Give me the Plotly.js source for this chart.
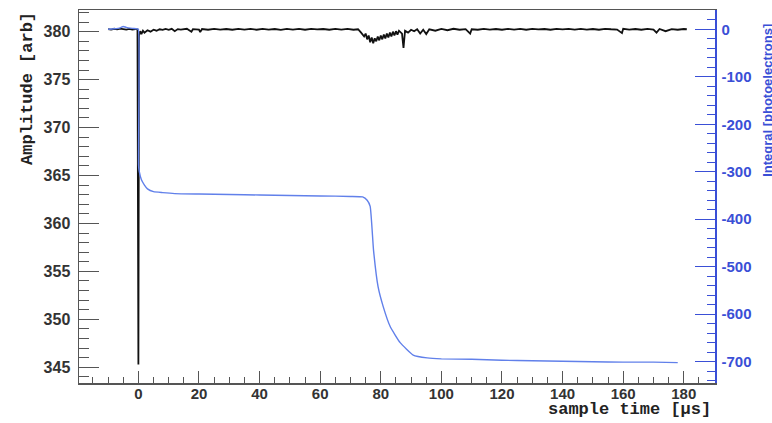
<!DOCTYPE html>
<html>
<head>
<meta charset="utf-8">
<script src="https://cdn.plot.ly/plotly-3.0.1.min.js"></script>
<style>html,body{margin:0;padding:0;background:#fff;}#chart{width:772px;height:423px;}</style>
</head>
<body>
<div id="chart"></div>
<script>
// Black trace: raw amplitude [arb] vs sample time [µs]
const ampTime = [-10,-9,-8,-7,-6,-5,-4,-3,-2,-1,-0.3,0,0.2,0.6,1,1.5,2,3,4,5,6,7,8,9,10,11,12,13,14,16,17.5,18,20,20.4,21,23,25,27,29,31,33,35,37,39,41,43,45,47,49,51,53,55,57,59,61,63,65,67,69,71,72.5,73.5,74.5,75,75.5,76,76.5,77,77.5,78,78.5,79,79.5,80,80.5,81,81.5,82,82.5,83,83.5,84,84.5,85,85.5,86,87,87.5,88,89,90,91,92,93,94,95,96,98,100,102,104,106,108,109.5,110,112,114,116,118,120,122,124,126,128,130,132,134,136,138,140,142,144,146,148,150,152,154,156,158,159.6,160,162,164,166,168,170,171,172,174,176,178,180,181];
const ampValue = [380.27,380.22,380.30,380.24,380.31,380.26,380.21,380.29,380.23,380.28,380.22,345.3,379.6,380.05,379.75,380.1,379.9,380.15,380.0,380.2,380.1,380.25,380.18,380.28,380.2,380.3,380.05,380.27,380.22,380.3,380.0,380.26,380.22,379.95,380.28,380.2,380.3,380.22,380.28,380.2,380.3,380.21,380.29,380.2,380.3,380.22,380.28,380.18,380.3,380.22,380.29,380.2,380.3,380.23,380.28,380.2,380.29,380.21,380.3,380.2,380.25,379.9,379.5,379.8,379.2,379.6,378.9,379.4,378.8,379.3,379.0,379.5,379.1,379.6,379.2,379.7,379.3,379.8,379.4,379.9,379.5,380.0,379.6,380.05,379.7,380.1,379.8,378.3,380.1,379.9,380.2,380.05,380.25,379.8,380.2,379.75,380.25,380.1,380.28,380.15,380.3,380.2,380.27,379.8,380.25,380.2,380.3,380.22,380.28,380.2,380.3,380.22,380.29,380.2,380.3,380.24,380.28,380.2,380.3,380.23,380.29,380.21,380.3,380.22,380.28,380.2,380.3,380.25,380.22,379.85,380.3,380.21,380.28,380.2,380.3,380.22,379.9,380.28,380.05,380.27,380.2,380.28,380.25];

// Blue trace: integral vs sample time [µs]
const intTime = [-10,-8,-6,-5,-4,-2,-0.5,0,0.05,0.3,1,2,3,5,8,12,20,30,40,50,60,70,74,75.5,76.5,77.6,79.1,80.8,83.1,86.4,90.7,95.3,100,110,120,130,140,150,160,170,178];
const intValue = [0,1,3,6,4,2,1,0,-286,-300,-317,-328,-336,-342,-344,-346,-347,-348,-349,-350,-351,-352,-353,-360,-373,-465,-542,-584,-626,-660,-686,-692,-694,-695,-697,-698,-699,-700,-701,-701,-702];

const xTickVals = [0,20,40,60,80,100,120,140,160,180];
const yTickVals = [345,350,355,360,365,370,375,380];
const y2TickVals = [0,-100,-200,-300,-400,-500,-600,-700];
const y2TickText = ['0','-100','-200','-300','-400','-500','-600','-700'];

const blue = '#3a4fd6';
const traces = [
  {x: ampTime, y: ampValue, type: 'scatter', mode: 'lines', line: {color: '#111', width: 1.8}, yaxis: 'y', hoverinfo: 'skip'},
  {x: intTime, y: intValue, type: 'scatter', mode: 'lines', line: {color: '#6180ea', width: 1.4, shape: 'spline', smoothing: 0.4}, yaxis: 'y2', hoverinfo: 'skip'}
];

const tickFont = {family: 'Liberation Sans, Arial, sans-serif', size: 15, color: '#333', weight: 'bold'};
const layout = {
  width: 772, height: 423,
  margin: {l: 79, r: 57, t: 10, b: 40, pad: 0},
  paper_bgcolor: '#fff', plot_bgcolor: '#fff',
  showlegend: false,
  xaxis: {
    range: [-19.6, 190.3], showgrid: false, zeroline: false,
    showline: true, linecolor: '#555', linewidth: 1.5, mirror: true,
    ticks: 'inside', ticklen: 12, tickcolor: '#555', tickwidth: 1,
    tickvals: xTickVals, tickfont: tickFont,
    ticklabelstandoff: -4,
    minor: {ticks: 'inside', ticklen: 6, dtick: 5, tick0: 0, tickcolor: '#555', showgrid: false}
  },
  yaxis: {
    range: [343.36, 382.26], showgrid: false, zeroline: false,
    showline: true, linecolor: '#555', linewidth: 1.5,
    ticks: 'inside', ticklen: 20, tickcolor: '#555', tickwidth: 1,
    tickvals: yTickVals, tickfont: Object.assign({}, tickFont, {size: 16}),
    ticklabelstandoff: 4,
    minor: {ticks: 'inside', ticklen: 10, dtick: 1, tick0: 0, tickcolor: '#555', showgrid: false}
  },
  yaxis2: {
    overlaying: 'y', side: 'right',
    range: [-744.9, 40.6], showgrid: false, zeroline: false,
    showline: true, linecolor: blue, linewidth: 1.5,
    ticks: 'inside', ticklen: 20, tickcolor: blue, tickwidth: 1,
    tickvals: y2TickVals, ticktext: y2TickText,
    tickfont: {family: 'Liberation Sans, Arial, sans-serif', size: 15, color: blue, weight: 'bold'},
    ticklabelstandoff: 2,
    minor: {ticks: 'inside', ticklen: 8, dtick: 20, tick0: 0, tickcolor: blue, showgrid: false}
  },
  annotations: [
    {text: '<b>Amplitude [arb]</b>', xref: 'paper', yref: 'paper', x: -0.0802, y: 0.791,
     xanchor: 'center', yanchor: 'middle', textangle: -90, showarrow: false,
     font: {family: 'Liberation Mono, Courier New, monospace', size: 17, color: '#222'}},
    {text: '<b>sample time [µs]</b>', xref: 'paper', yref: 'paper', x: 0.997, y: -0.072,
     xanchor: 'right', yanchor: 'middle', showarrow: false,
     font: {family: 'Liberation Mono, Courier New, monospace', size: 17, color: '#222'}},
    {text: '<b>Integral [photoelectrons]</b>', xref: 'paper', yref: 'paper', x: 1.0833, y: 0.759,
     xanchor: 'center', yanchor: 'middle', textangle: -90, showarrow: false,
     font: {family: 'Liberation Sans, Arial, sans-serif', size: 13, color: blue}}
  ]
};
Plotly.newPlot('chart', traces, layout, {staticPlot: true, displayModeBar: false});
</script>
</body>
</html>
